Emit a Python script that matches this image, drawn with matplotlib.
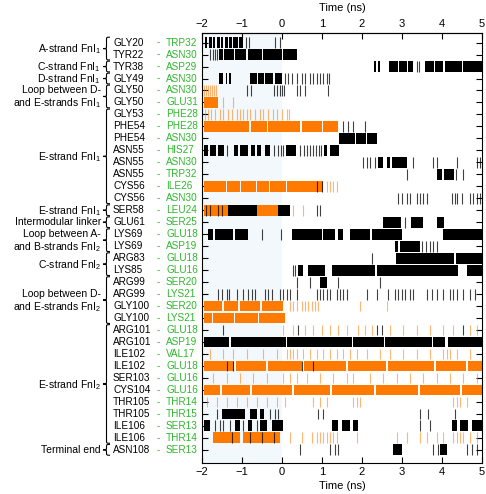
import matplotlib
matplotlib.use('Agg')
from matplotlib import pyplot as plt
from matplotlib import transforms
from matplotlib.path import Path
from matplotlib.patches import PathPatch

plt.rcParams['font.family'] = ['Liberation Sans', 'DejaVu Sans']
plt.rcParams['mathtext.default'] = 'regular'

# contact pairs, top to bottom
residues = ['GLY20', 'TYR22', 'TYR38', 'GLY49', 'GLY50', 'GLY50', 'GLY53', 'PHE54',
            'PHE54', 'ASN55', 'ASN55', 'ASN55', 'CYS56', 'CYS56', 'SER58', 'GLU61',
            'LYS69', 'LYS69', 'ARG83', 'LYS85', 'ARG99', 'ARG99', 'GLY100', 'GLY100',
            'ARG101', 'ARG101', 'ILE102', 'ILE102', 'SER103', 'CYS104', 'THR105',
            'THR105', 'ILE106', 'ILE106', 'ASN108']
partners = ['TRP32', 'ASN30', 'ASP29', 'ASN30', 'ASN30', 'GLU31', 'PHE28', 'PHE28',
            'ASN30', 'HIS27', 'ASN30', 'TRP32', 'ILE26', 'ASN30', 'LEU24', 'SER25',
            'GLU18', 'ASP19', 'GLU18', 'GLU16', 'SER20', 'LYS21', 'SER20', 'LYS21',
            'GLU18', 'ASP19', 'VAL17', 'GLU18', 'GLU16', 'GLU16', 'THR14', 'THR15',
            'SER13', 'THR14', 'SER13']

groups = [('A-strand FnI$_1$', 0, 1),
          ('C-strand FnI$_1$', 2, 2),
          ('D-strand FnI$_1$', 3, 3),
          ('Loop between D-\nand E-strands FnI$_1$', 4, 5),
          ('E-strand FnI$_1$', 6, 13),
          ('E-strand FnI$_1$', 14, 14),
          ('Intermodular linker', 15, 15),
          ('Loop between A-\nand B-strands FnI$_2$', 16, 17),
          ('C-strand FnI$_2$', 18, 19),
          ('Loop between D-\nand E-strands FnI$_2$', 20, 23),
          ('E-strand FnI$_2$', 24, 33),
          ('Terminal end', 34, 34)]

# contact periods (ns): solid stretches and single frames, one list per row
black_blocks = [
    [(-1.93, -1.87), (-1.82, -1.76), (-1.73, -1.68), (-1.63, -1.55), (-1.52, -1.47),
     (-1.43, -1.35), (-1.32, -1.26), (-1.22, -1.1), (-1.07, -0.97)],
    [(-1.57, -1.47), (-1.44, -1.2), (-1.17, -0.9), (-0.86, -0.5), (-0.47, 0.0), (0.03, 0.38)],
    [(2.31, 2.36), (2.41, 2.44), (2.68, 2.9), (2.93, 3.12), (3.16, 3.27), (3.58, 3.8),
     (3.83, 4.02), (4.07, 4.5), (4.53, 5.0)],
    [(-1.57, -1.47), (-1.4, -1.37), (-1.32, -1.28), (-0.8, -0.63), (-0.59, -0.45),
     (-0.42, -0.22), (-0.18, -0.01)],
    [],
    [],
    [],
    [],
    [(1.43, 1.82), (1.86, 2.1), (2.13, 2.37)],
    [(-1.95, -1.85), (-1.8, -1.65), (-1.6, -1.45), (-1.2, -1.1), (-1.05, -0.85), (-0.78, -0.68),
     (-0.62, -0.52), (-0.43, -0.3), (0.1, 0.35), (1.05, 1.12), (1.2, 1.43)],
    [(2.41, 2.53), (2.62, 2.7), (2.74, 3.12)],
    [(3.88, 4.0), (4.05, 4.3)],
    [],
    [],
    [(-1.34, -0.63), (-0.55, -0.38), (-0.09, 0.2)],
    [(2.52, 2.98), (3.22, 3.52), (3.87, 4.05)],
    [(-1.84, -1.72), (-1.68, -1.22), (-1.18, -0.84), (0.24, 1.0), (1.03, 1.33), (1.41, 1.53),
     (1.7, 2.2), (2.24, 2.99), (4.03, 5.0)],
    [(2.83, 2.9), (2.95, 3.45)],
    [(2.85, 4.3), (4.35, 5.0)],
    [(0.41, 0.53), (0.66, 1.08), (1.24, 2.33), (2.37, 4.4), (4.62, 5.0)],
    [(0.95, 1.12)],
    [],
    [],
    [],
    [],
    [(-1.95, -1.32), (-1.28, 0.1), (0.12, 1.75), (1.78, 2.55), (2.58, 3.75), (3.78, 4.08), (4.15, 5.0)],
    [],
    [],
    [],
    [],
    [],
    [(-1.51, -0.93), (-0.8, -0.63), (-0.55, -0.45)],
    [(-1.95, -1.8), (-1.18, -1.05), (-0.84, -0.76), (-0.55, -0.38), (-0.26, 0.03), (1.24, 1.41),
     (1.49, 1.7), (1.78, 1.91), (4.24, 4.37), (4.45, 4.66), (4.74, 5.0)],
    [],
    [(2.78, 2.99), (3.95, 4.12)],
]
black_ticks = [
    [-0.9, -0.82, -0.18, -0.05],
    [-1.8, -1.73, -1.68, -1.63],
    [3.37, 3.43],
    [0.08, 0.16, 0.24, 0.37, 0.49, 0.58, 0.7, 0.78, 0.87, 0.95, 1.03, 1.12, 1.18],
    [-0.87, -0.78, -0.2, -0.12, -0.05, 0.0, 0.05, 0.37, 0.45, 0.58, 1.16],
    [],
    [],
    [1.53, 1.66, 1.78, 2.08],
    [],
    [-1.38, -0.2, -0.1, -0.02, 0.03, 0.45, 0.55, 0.62, 0.7, 0.78, 0.85, 0.92, 0.98],
    [2.03, 2.12, 2.2, 2.33, 3.28, 3.78, 3.87, 4.37, 4.87, 4.95],
    [3.12, 4.35, 4.53],
    [0.87, 0.99],
    [2.91, 2.99, 3.12, 3.2, 3.37, 3.45, 3.53, 3.62, 4.24, 4.33, 4.37, 4.49, 4.7, 4.78, 4.87, 4.95],
    [-1.9, -1.8, -1.6, -1.5, 0.87, 0.95],
    [3.08],
    [-0.51, -0.03],
    [3.5, 3.6, 3.7, 3.78, 3.88],
    [2.24],
    [0.28, 0.33],
    [0.37, 0.7, 1.41, 2.45],
    [-1.59, -1.51, -1.38, -1.32, -1.13, -0.97, -0.84, -0.76, -0.67, -0.43, -0.34, -0.26, -0.05,
     0.03, 0.12, 0.2, 0.37, 0.87, 0.95, 1.03, 1.12, 1.2, 1.37, 1.45, 1.53, 1.62, 2.12, 2.37,
     2.66, 2.83, 2.91, 2.99, 3.08, 3.2, 3.28, 3.62, 3.74, 3.87, 4.03, 4.2, 4.28, 4.37, 4.53,
     4.7, 4.83],
    [],
    [],
    [-1.47, 0.41, 2.37, 2.49, 4.53],
    [],
    [],
    [-1.38, -1.22, 0.49, 0.78],
    [],
    [],
    [],
    [-1.63, -0.3, -0.18, -0.09, 0.91, 1.03, 3.45, 3.66, 4.33],
    [-1.68, -1.55, -1.47, -1.3, -0.97, -0.63, 3.45, 3.7],
    [-1.25, -0.8, -0.5, -0.2],
    [0.45, 1.2, 1.33, 1.41, 3.78, 3.91, 4.62, 4.74, 4.87],
]
orange_blocks = [
    [], [], [], [],
    [],
    [(-1.95, -1.59)],
    [],
    [(-1.95, -0.82), (-0.78, -0.38), (-0.34, 0.45), (0.49, 0.99), (1.03, 1.41)],
    [], [], [], [],
    [(-1.95, -1.4), (-1.37, -1.05), (-1.02, -0.65), (-0.62, -0.32), (-0.29, 0.1), (0.13, 1.03)],
    [],
    [(-1.95, -1.34), (-0.63, -0.09)],
    [], [], [], [], [], [], [],
    [(-1.95, -1.5), (-1.45, -1.1), (-1.05, -0.55), (-0.5, 0.03)],
    [(-1.95, -1.75), (-1.72, -1.2), (-1.17, -0.6), (-0.57, 0.07)],
    [], [], [],
    [(-1.95, -1.2), (-1.15, -0.4), (-0.35, 0.5), (0.55, 1.6), (1.65, 2.6), (2.65, 3.8),
     (3.85, 4.6), (4.65, 5.0)],
    [],
    [(-1.95, -1.55), (-1.5, -0.8), (-0.75, 0.25), (0.3, 1.2), (1.25, 2.3), (2.35, 3.4),
     (3.45, 4.45), (4.5, 5.0)],
    [], [], [],
    [(-1.72, -1.05), (-0.97, -0.05)],
    [],
]
orange_ticks = [
    [], [], [], [],
    [-1.95, -1.9, -1.85, -1.8, -1.75, -1.7, -1.65],
    [-1.47, -1.22],
    [-1.93, -1.84, -1.78, -1.68, -1.55, -1.47, -1.34, -1.26, -1.13, -1.05, -0.97, -0.88, -0.8,
     -0.68, -0.55, -0.47, -0.34, -0.22, -0.12, -0.01, 0.12, 0.18],
    [],
    [], [], [], [],
    [1.12, 1.2, 1.28, 1.37],
    [],
    [0.28, 0.53],
    [], [], [], [], [], [], [],
    [0.2, 0.28, 0.37, 0.49, 0.58, 0.66, 0.74, 0.83, 0.91, 1.95, 2.62],
    [],
    [0.03, 0.28, 0.58, 0.78, 0.99, 1.2, 1.41, 1.62, 1.91, 2.08, 2.24, 2.7, 3.03, 3.37, 3.7,
     4.03, 4.28, 4.7, 4.87],
    [],
    [-1.8, -1.47, -1.22, -0.88, -0.47, -0.13, 0.12, 0.2, 0.28, 0.37, 0.53, 0.7, 0.87, 1.03,
     1.2, 1.37, 1.53, 1.7, 1.87, 2.12, 2.45, 2.7, 3.03, 3.37, 3.7, 4.03, 4.12, 4.2, 4.37, 4.7],
    [],
    [-1.72, -1.38, -1.05, -0.72, -0.38, 0.03, 0.2, 0.37, 0.62, 0.95, 1.28, 1.62, 1.78, 2.2,
     2.53, 2.87, 3.2, 3.53, 3.87, 4.2, 4.53, 4.87],
    [],
    [-1.88, -1.63, -1.38, -1.13, -0.88, -0.63, -0.38, -0.13, 0.08, 0.78, 0.95, 1.12, 1.78,
     1.87, 1.95, 4.28, 4.37, 4.45, 4.62],
    [], [],
    [0.2, 0.49, 0.74, 0.87, 0.95, 1.03, 1.12, 1.2, 1.28, 1.37, 1.87, 2.87, 3.12, 3.45, 3.62,
     3.87, 4.03, 4.28, 4.37, 4.45, 4.53, 4.7, 4.87],
    [],
]

time_ticks = [-2, -1, 0, 1, 2, 3, 4, 5]

W, H = 486, 494
orange = '#ff7a00'
green = '#2db82d'

fig = plt.figure(figsize=(W / 100, H / 100), dpi=100)
ax = fig.add_axes([202 / W, 31 / H, 280 / W, 430 / H])

n = len(residues)
ax.axvspan(-2, 0, color='#f2f8fc', zorder=0, lw=0)
for i in range(n):
    if black_blocks[i]:
        ax.broken_barh([(s, e - s) for s, e in black_blocks[i]], (i - 0.45, 0.9),
                       facecolors='black', edgecolor='none', zorder=2)
    if orange_blocks[i]:
        ax.broken_barh([(s, e - s) for s, e in orange_blocks[i]], (i - 0.45, 0.9),
                       facecolors=orange, edgecolor='none', zorder=2)
    if orange_ticks[i]:
        ax.vlines(orange_ticks[i], i - 0.45, i + 0.45, color=orange, lw=0.8, alpha=0.55, zorder=3)
    if black_ticks[i]:
        ax.vlines(black_ticks[i], i - 0.45, i + 0.45, color='black', lw=0.8, alpha=0.75, zorder=3)

ax.set_xlim(-2, 5)
ax.set_ylim(n - 1 + 1.1, -0.8)
ax.set_xticks(time_ticks)
ax.set_yticks(range(n))
ax.set_yticklabels([])
ax.tick_params(axis='x', direction='in', top=True, labeltop=True, length=4, labelsize=8, pad=3)
ax.tick_params(axis='y', direction='in', right=True, length=4)
ax.set_xlabel('Time (ns)', fontsize=8, labelpad=3)
sec = ax.secondary_xaxis('top')
sec.set_xticks([])
sec.set_xlabel('Time (ns)', fontsize=8, labelpad=16)
for sp in ax.spines.values():
    sp.set_linewidth(0.8)

# x in figure pixels, y in row units
tr = transforms.blended_transform_factory(
    transforms.Affine2D().scale(1 / W, 1) + fig.transFigure, ax.transData)

for i in range(n):
    ax.text(113, i, residues[i], transform=tr, fontsize=7.2, va='center', ha='left')
    ax.text(158, i, '-', transform=tr, fontsize=7.2, va='center', ha='center', color=green)
    ax.text(166, i, partners[i], transform=tr, fontsize=7.2, va='center', ha='left', color=green)


def brace(y0, y1):
    xe, xm, xt = 110, 106.5, 103
    ym = (y0 + y1) / 2
    r = min(0.25, (y1 - y0) / 4)
    verts = [(xe, y0), (xm, y0), (xm, y0), (xm, y0 + r), (xm, ym - r),
             (xm, ym), (xm, ym), (xt, ym),
             (xm, ym), (xm, ym), (xm, ym + r), (xm, y1 - r),
             (xm, y1), (xm, y1), (xe, y1)]
    codes = [Path.MOVETO] + [Path.CURVE4] * 3 + [Path.LINETO] + [Path.CURVE4] * 3 + \
            [Path.CURVE4] * 3 + [Path.LINETO] + [Path.CURVE4] * 3
    ax.add_patch(PathPatch(Path(verts, codes), transform=tr, fill=False, lw=0.8,
                           clip_on=False, edgecolor='black'))


for label, a, b in groups:
    brace(a - 0.45, b + 0.45)
    lines = label.split('\n')
    mid = (a + b) / 2
    for k, line in enumerate(lines):
        yy = mid + (k - (len(lines) - 1) / 2) * 1.0
        ax.text(101, yy - 0.1, line, transform=tr, fontsize=7.5, ha='right', va='center_baseline')

fig.savefig('out.png', dpi=100)
